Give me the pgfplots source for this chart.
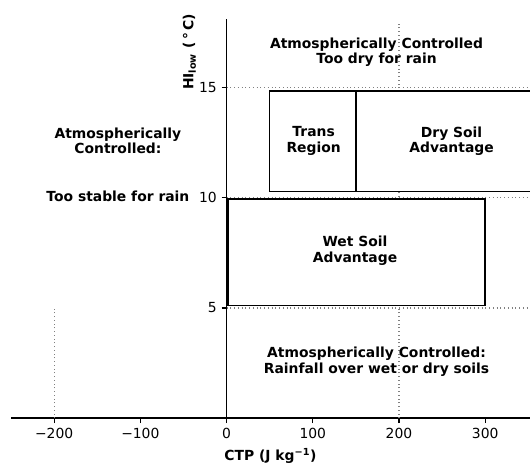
\documentclass[border=0pt]{standalone}
\usepackage{pgfplots}
\pgfplotsset{compat=1.18}
\usepackage{fontspec}
\setmainfont{DejaVu Sans}
\begin{document}
\begin{tikzpicture}
\begin{axis}[
 scale only axis, width=373.7pt, height=287.4pt,
 xmin=-250, xmax=352, ymin=0, ymax=18.09,
 axis x line=bottom, axis y line=middle,
 axis line style={-, line width=1.2pt},
 tick align=outside, major tick length=3.5pt,
 tick style={line width=0.8pt, black},
 xtick={-200,-100,0,100,200,300},
 xticklabels={−200,−100,0,100,200,300},
 ytick={5,10,15}, yticklabels={5,10,15},
 hide obscured x ticks=false, hide obscured y ticks=false,
 ticklabel style={font=\fontsize{10}{12}\selectfont},
 xlabel={\textbf{CTP (J kg\textsuperscript{−1})}},
 xlabel style={font=\fontsize{10}{12}\selectfont},
 clip mode=individual,
]
% dotted guide lines
\addplot[gray, line width=0.8pt, dash pattern=on 0.7pt off 2pt] coordinates {(0,15) (360,15)};
\addplot[gray, line width=0.8pt, dash pattern=on 0.7pt off 2pt] coordinates {(0,10) (360,10)};
\addplot[gray, line width=0.8pt, dash pattern=on 0.7pt off 2pt] coordinates {(0,5) (360,5)};
\addplot[gray, line width=0.8pt, dash pattern=on 0.7pt off 2pt] coordinates {(200,0) (200,18)};
\addplot[gray, line width=0.8pt, dash pattern=on 0.7pt off 2pt] coordinates {(-200,0) (-200,5)};
% boxes
\addplot[black, fill=white, line width=1.2pt] coordinates {(50,10.28) (150,10.28) (150,14.85) (50,14.85) (50,10.28) (150,10.28)};
\addplot[black, fill=white, line width=1.2pt] coordinates {(150,10.28) (370,10.28) (370,14.85) (150,14.85) (150,10.28)};
\addplot[black, fill=white, line width=1.2pt] coordinates {(2,5.11) (300,5.11) (300,9.95) (2,9.95) (2,5.11) (300,5.11)};
% texts
\begin{scope}[every node/.style={font=\bfseries\fontsize{10}{11}\selectfont, align=center}]
\node at (axis cs:174,16.6) {Atmospherically Controlled\\Too dry for rain};
\node at (axis cs:101,12.57) {Trans\\Region};
\node at (axis cs:261,12.57) {Dry Soil\\Advantage};
\node at (axis cs:149,7.6) {Wet Soil\\Advantage};
\node at (axis cs:174,2.56) {Atmospherically Controlled:\\Rainfall over wet or dry soils};
\node at (axis cs:-126,12.57) {Atmospherically\\Controlled:};
\node at (axis cs:-126,10.08) {Too stable for rain};
\node[rotate=90] at (axis cs:-43,16.6) {HI\textsubscript{low} (\,°\,C)};
\end{scope}
\coordinate (bl) at (axis cs:-262.8,-2.38);
\coordinate (tr) at (axis cs:352,18.96);
\end{axis}
\pgfresetboundingbox
\useasboundingbox (bl) rectangle (tr);
\end{tikzpicture}
\end{document}
